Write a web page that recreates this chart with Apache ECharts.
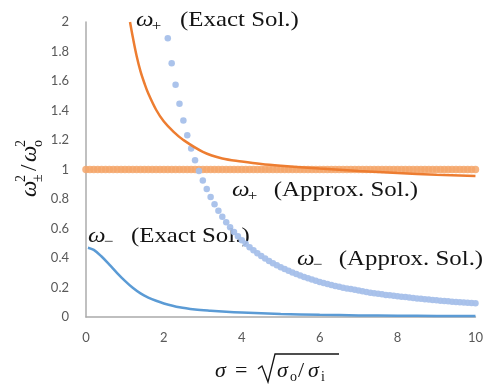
<!DOCTYPE html>
<html>
<head>
<meta charset="utf-8">
<script src="https://cdn.jsdelivr.net/npm/echarts@6/dist/echarts.min.js"></script>
<style>
html,body{margin:0;padding:0;background:#fff;}
#chart{width:486px;height:387px;}
</style>
</head>
<body>
<div id="chart"></div>
<script>
// sigma grid for the constant approximate omega+ markers
var sigmaApproxPlus = [0,0.1,0.2,0.3,0.4,0.5,0.6,0.7,0.8,0.9,1,1.1,1.2,1.3,1.4,1.5,1.6,1.7,1.8,1.9,2,2.1,2.2,2.3,2.4,2.5,2.6,2.7,2.8,2.9,3,3.1,3.2,3.3,3.4,3.5,3.6,3.7,3.8,3.9,4,4.1,4.2,4.3,4.4,4.5,4.6,4.7,4.8,4.9,5,5.1,5.2,5.3,5.4,5.5,5.6,5.7,5.8,5.9,6,6.1,6.2,6.3,6.4,6.5,6.6,6.7,6.8,6.9,7,7.1,7.2,7.3,7.4,7.5,7.6,7.7,7.8,7.9,8,8.1,8.2,8.3,8.4,8.5,8.6,8.7,8.8,8.9,9,9.1,9.2,9.3,9.4,9.5,9.6,9.7,9.8,9.9,10];
var approxPlusValues = [1,1,1,1,1,1,1,1,1,1,1,1,1,1,1,1,1,1,1,1,1,1,1,1,1,1,1,1,1,1,1,1,1,1,1,1,1,1,1,1,1,1,1,1,1,1,1,1,1,1,1,1,1,1,1,1,1,1,1,1,1,1,1,1,1,1,1,1,1,1,1,1,1,1,1,1,1,1,1,1,1,1,1,1,1,1,1,1,1,1,1,1,1,1,1,1,1,1,1,1,1];

var sigmaApproxMinus = [2.1,2.2,2.3,2.4,2.5,2.6,2.7,2.8,2.9,3,3.1,3.2,3.3,3.4,3.5,3.6,3.7,3.8,3.9,4,4.1,4.2,4.3,4.4,4.5,4.6,4.7,4.8,4.9,5,5.1,5.2,5.3,5.4,5.5,5.6,5.7,5.8,5.9,6,6.1,6.2,6.3,6.4,6.5,6.6,6.7,6.8,6.9,7,7.1,7.2,7.3,7.4,7.5,7.6,7.7,7.8,7.9,8,8.1,8.2,8.3,8.4,8.5,8.6,8.7,8.8,8.9,9,9.1,9.2,9.3,9.4,9.5,9.6,9.7,9.8,9.9,10];
var approxMinusValues = [1.89,1.72,1.575,1.446,1.333,1.232,1.143,1.062,0.99,0.926,
  0.867,0.813,0.765,0.721,0.68,0.643,0.608,0.577,0.548,0.521,
  0.496,0.473,0.452,0.432,0.413,0.396,0.38,0.365,0.351,0.338,
  0.325,0.313,0.302,0.291,0.281,0.272,0.263,0.254,0.246,0.238,
  0.231,0.224,0.217,0.211,0.205,0.199,0.194,0.189,0.184,0.179,
  0.174,0.17,0.165,0.161,0.157,0.154,0.15,0.147,0.144,0.141,
  0.138,0.135,0.132,0.129,0.126,0.123,0.121,0.118,0.116,0.113,
  0.111,0.109,0.106,0.104,0.102,0.1,0.098,0.096,0.095,0.093];

var sigmaExactPlus = [1.13,1.2,1.3,1.4,1.5,1.6,1.8,2.0,2.25,2.5,3.0,3.5,4.0,4.5,5.0,6.0,7.0,8.0,9.0,10.0];
var exactPlusValues = [2.0,1.9,1.77,1.665,1.585,1.515,1.405,1.325,1.255,1.2,1.12,1.075,1.055,1.038,1.026,1.006,0.99,0.976,0.965,0.956];

var sigmaExactMinus = [0.05,0.2,0.4,0.6,0.8,1.0,1.2,1.4,1.6,1.8,2.0,2.4,2.8,3.2,3.6,4.0,5.0,6.0,7.0,8.0,9.0,10.0];
var exactMinusValues = [0.47,0.455,0.41,0.355,0.298,0.245,0.198,0.16,0.132,0.11,0.092,0.066,0.051,0.042,0.035,0.03,0.021,0.015,0.011,0.009,0.007,0.006];

var xTicks = {min:0, max:10, interval:2};
var yTicks = {min:0, max:2, interval:0.2};

function zip(xs, ys){ return xs.map(function(x,i){ return [x, ys[i]]; }); }

var SERIF = '"Liberation Serif", "DejaVu Serif", serif';
var INK = '#141414';

function mathLabel(x, y, sub, rest, gap, sx){
  return {
    type:'group', x:x, y:y, scaleX:sx,
    children:[
      {type:'text', x:0, y:0, style:{text:'ω', font:'italic 22px ' + SERIF, fill:INK, textVerticalAlign:'middle'}},
      {type:'text', x:14, y:6, style:{text:sub, font:'15px ' + SERIF, fill:INK, textVerticalAlign:'middle'}},
      {type:'text', x:gap, y:0, style:{text:rest, font:'22px ' + SERIF, fill:INK, textVerticalAlign:'middle'}}
    ]
  };
}

var chart = echarts.init(document.getElementById('chart'), null, {renderer:'canvas'});
var axisLineStyle = {color:'#ababab', width:1.5};
var labelStyle = {color:'#595959', fontSize:13, fontFamily:'Lato, "Open Sans", sans-serif'};

chart.setOption({
  animation:false,
  backgroundColor:'#ffffff',
  grid:{left:86, right:7, top:22, bottom:70, containLabel:false},
  xAxis:{
    type:'value', min:xTicks.min, max:xTicks.max, interval:xTicks.interval,
    axisLine:{show:true, onZero:false, lineStyle:axisLineStyle},
    axisTick:{show:false}, splitLine:{show:false},
    axisLabel:Object.assign({margin:14}, labelStyle)
  },
  yAxis:{
    type:'value', min:yTicks.min, max:yTicks.max, interval:yTicks.interval,
    axisLine:{show:true, onZero:false, lineStyle:axisLineStyle},
    axisTick:{show:false}, splitLine:{show:false},
    axisLabel:Object.assign({margin:17}, labelStyle)
  },
  series:[
    {type:'scatter', name:'approxPlus', data:zip(sigmaApproxPlus, approxPlusValues), symbol:'circle', symbolSize:7.5,
      itemStyle:{color:'#f4a66a', opacity:0.85}, z:2, silent:true},
    {type:'scatter', name:'approxMinus', data:zip(sigmaApproxMinus, approxMinusValues), symbol:'circle', symbolSize:6.5,
      itemStyle:{color:'#a6c0ea', opacity:0.95}, z:3, silent:true},
    {type:'line', name:'exactPlus', data:zip(sigmaExactPlus, exactPlusValues), showSymbol:false, symbol:'none',
      smooth:0.35, lineStyle:{color:'#ed7d31', width:2.5}, z:4, silent:true},
    {type:'line', name:'exactMinus', data:zip(sigmaExactMinus, exactMinusValues), showSymbol:false, symbol:'none',
      smooth:0.35, lineStyle:{color:'#5b9bd5', width:2.5}, z:4, silent:true}
  ],
  graphic:[
    mathLabel(136, 20, '+', '(Exact Sol.)', 39, 1.13),
    mathLabel(232, 190, '+', '(Approx. Sol.)', 37, 1.13),
    mathLabel(88, 236, '−', '(Exact Sol.)', 38, 1.13),
    mathLabel(297, 259, '−', '(Approx. Sol.)', 37, 1.13),
    // y axis title
    {type:'group', x:30, y:163, rotation:Math.PI/2, children:[
      {type:'text', x:-34, y:0, style:{text:'ω', font:'italic 23px ' + SERIF, fill:INK, textVerticalAlign:'middle'}},
      {type:'text', x:-19, y:-9, style:{text:'2', font:'14px ' + SERIF, fill:INK, textVerticalAlign:'middle'}},
      {type:'text', x:-19, y:8, style:{text:'±', font:'14px ' + SERIF, fill:INK, textVerticalAlign:'middle'}},
      {type:'text', x:-8, y:0, style:{text:'/', font:'23px ' + SERIF, fill:INK, textVerticalAlign:'middle'}},
      {type:'text', x:1, y:0, style:{text:'ω', font:'italic 23px ' + SERIF, fill:INK, textVerticalAlign:'middle'}},
      {type:'text', x:16, y:-9, style:{text:'2', font:'14px ' + SERIF, fill:INK, textVerticalAlign:'middle'}},
      {type:'text', x:16, y:8, style:{text:'o', font:'14px ' + SERIF, fill:INK, textVerticalAlign:'middle'}}
    ]},
    // x axis title
    {type:'group', x:0, y:0, children:[
      {type:'text', x:215, y:371, style:{text:'σ', font:'italic 22px ' + SERIF, fill:INK, textVerticalAlign:'middle'}},
      {type:'text', x:235, y:371, style:{text:'=', font:'22px ' + SERIF, fill:INK, textVerticalAlign:'middle'}},
      {type:'polyline', shape:{points:[[258,369],[262,366],[268,382],[275,354],[339,354]]}, style:{stroke:INK, lineWidth:1.3, fill:null}},
      {type:'text', x:277, y:371, style:{text:'σ', font:'italic 22px ' + SERIF, fill:INK, textVerticalAlign:'middle'}},
      {type:'text', x:290, y:377, style:{text:'o', font:'14px ' + SERIF, fill:INK, textVerticalAlign:'middle'}},
      {type:'text', x:298, y:371, style:{text:'/', font:'22px ' + SERIF, fill:INK, textVerticalAlign:'middle'}},
      {type:'text', x:308, y:371, style:{text:'σ', font:'italic 22px ' + SERIF, fill:INK, textVerticalAlign:'middle'}},
      {type:'text', x:321, y:377, style:{text:'i', font:'14px ' + SERIF, fill:INK, textVerticalAlign:'middle'}}
    ]}
  ]
});
</script>
</body>
</html>
